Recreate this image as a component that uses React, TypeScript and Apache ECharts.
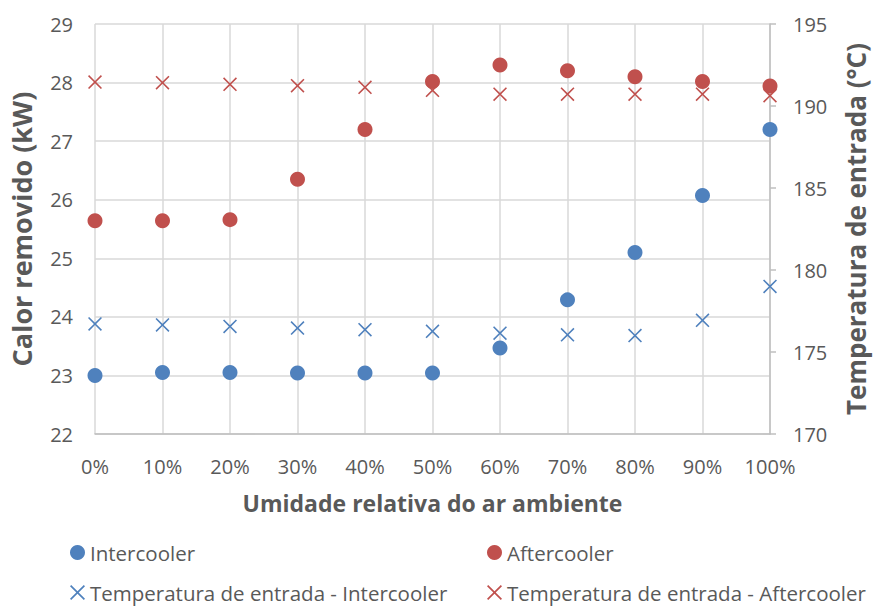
import React, { useEffect, useRef } from "react";
import * as echarts from "echarts";

// Umidade relativa do ar ambiente (%)
const humidity = [0, 10, 20, 30, 40, 50, 60, 70, 80, 90, 100];

// Calor removido (kW)
const intercoolerHeat = [23.0, 23.05, 23.05, 23.04, 23.04, 23.04, 23.47, 24.29, 25.1, 26.07, 27.2];
const aftercoolerHeat = [25.64, 25.64, 25.66, 26.35, 27.2, 28.02, 28.3, 28.2, 28.1, 28.02, 27.94];

// Temperatura de entrada (°C)
const intercoolerTemp = [176.71, 176.65, 176.56, 176.46, 176.36, 176.26, 176.15, 176.05, 176.0, 176.93, 179.0];
const aftercoolerTemp = [191.46, 191.42, 191.32, 191.24, 191.14, 190.96, 190.72, 190.72, 190.72, 190.72, 190.63];

const names = [
  "Intercooler",
  "Aftercooler",
  "Temperatura de entrada - Intercooler",
  "Temperatura de entrada - Aftercooler",
];

const BLUE = "#4F81BD";
const RED = "#C0504D";
const TEXT = "#595959";
const FONT = "'Open Sans', 'Noto Sans', sans-serif";

// Thin "x" marker drawn as a filled outline
const CROSS =
  "path://M0,8L8,0L50,42L92,0L100,8L58,50L100,92L92,100L50,58L8,100L0,92L42,50Z";

const pairs = (ys: number[]) => humidity.map((x, i) => [x, ys[i]]);

export default function App() {
  const ref = useRef<HTMLDivElement>(null);

  useEffect(() => {
    if (!ref.current) return;
    const chart = echarts.init(ref.current, undefined, { renderer: "svg" });

    const legendBase = {
      orient: "horizontal" as const,
      itemWidth: 15,
      itemHeight: 15,
      padding: 0,
      textStyle: { color: TEXT, fontSize: 20.5, fontFamily: FONT },
    };

    chart.setOption({
      animation: false,
      backgroundColor: "#ffffff",
      grid: { left: 95, right: 107, top: 24, bottom: 174, containLabel: false },
      xAxis: {
        type: "value",
        min: 0,
        max: 100,
        interval: 10,
        name: "Umidade relativa do ar ambiente",
        nameLocation: "middle",
        nameGap: 57,
        nameTextStyle: { color: TEXT, fontSize: 23, fontWeight: "bold", fontFamily: FONT },
        axisLine: { show: true, lineStyle: { color: "#BFBFBF", width: 1.5 } },
        axisTick: { show: false },
        axisLabel: {
          color: TEXT,
          fontSize: 20,
          fontFamily: FONT,
          margin: 22,
          formatter: "{value}%",
        },
        splitLine: { show: true, lineStyle: { color: "#D9D9D9", width: 1.5 } },
      },
      yAxis: [
        {
          type: "value",
          min: 22,
          max: 29,
          interval: 1,
          name: "Calor removido (kW)",
          nameLocation: "middle",
          nameGap: 60,
          nameTextStyle: { color: TEXT, fontSize: 27, fontWeight: "bold", fontFamily: FONT },
          axisLine: { show: false },
          axisTick: { show: false },
          axisLabel: { color: TEXT, fontSize: 20, fontFamily: FONT, margin: 22 },
          splitLine: { show: true, lineStyle: { color: "#D9D9D9", width: 1.5 } },
        },
        {
          type: "value",
          min: 170,
          max: 195,
          interval: 5,
          position: "right",
          name: "Temperatura de entrada (°C)",
          nameLocation: "middle",
          nameGap: 73,
          nameRotate: 90,
          nameTextStyle: { color: TEXT, fontSize: 26, fontWeight: "bold", fontFamily: FONT },
          axisLine: { show: true, lineStyle: { color: "#BFBFBF", width: 1.5 } },
          axisTick: { show: true, length: 6, lineStyle: { color: "#BFBFBF", width: 1.5 } },
          axisLabel: { color: TEXT, fontSize: 20, fontFamily: FONT, margin: 23 },
          splitLine: { show: false },
        },
      ],
      legend: [
        { ...legendBase, data: [{ name: names[0], icon: "circle" }], left: 70, top: 542 },
        { ...legendBase, data: [{ name: names[1], icon: "circle" }], left: 487, top: 542 },
        { ...legendBase, data: [{ name: names[2], icon: CROSS }], left: 70, top: 582 },
        { ...legendBase, data: [{ name: names[3], icon: CROSS }], left: 487, top: 582 },
      ],
      series: [
        {
          name: names[0],
          type: "scatter",
          yAxisIndex: 0,
          symbol: "circle",
          symbolSize: 15,
          itemStyle: { color: BLUE, opacity: 1 },
          data: pairs(intercoolerHeat),
          z: 3,
        },
        {
          name: names[1],
          type: "scatter",
          yAxisIndex: 0,
          symbol: "circle",
          symbolSize: 15,
          itemStyle: { color: RED, opacity: 1 },
          data: pairs(aftercoolerHeat),
          z: 3,
        },
        {
          name: names[2],
          type: "scatter",
          yAxisIndex: 1,
          symbol: CROSS,
          symbolSize: 14,
          itemStyle: { color: BLUE, opacity: 1 },
          data: pairs(intercoolerTemp),
          z: 4,
        },
        {
          name: names[3],
          type: "scatter",
          yAxisIndex: 1,
          symbol: CROSS,
          symbolSize: 14,
          itemStyle: { color: RED, opacity: 1 },
          data: pairs(aftercoolerTemp),
          z: 4,
        },
      ],
    });

    return () => chart.dispose();
  }, []);

  return (
    <div
      ref={ref}
      style={{ position: "fixed", left: 0, top: 0, width: 877, height: 608, background: "#fff" }}
    />
  );
}
